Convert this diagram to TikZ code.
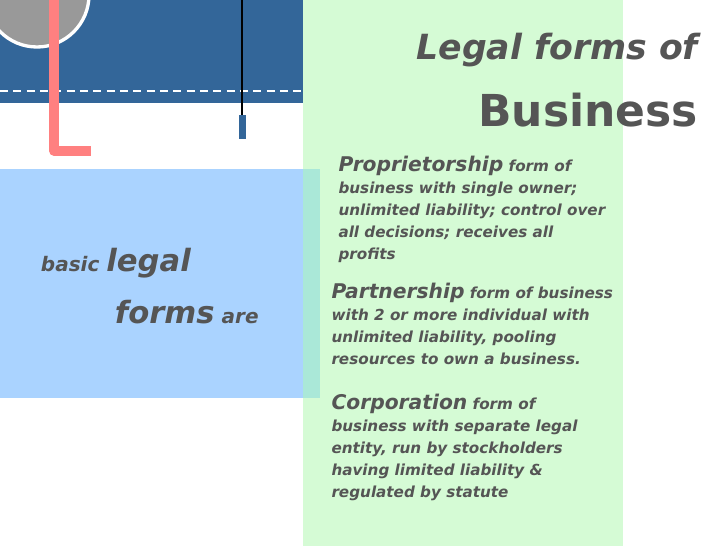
\documentclass[tikz,border=0pt]{standalone}
\usepackage{fontspec}
\setmainfont{DejaVu Sans}
\definecolor{bandblue}{RGB}{51,102,153}
\definecolor{panelgreen}{RGB}{213,251,213}
\definecolor{panelblue}{RGB}{170,211,255}
\definecolor{overlap}{RGB}{170,232,216}
\definecolor{pinkbar}{RGB}{255,128,128}
\definecolor{txtgray}{RGB}{85,85,85}
\tikzset{every picture/.style={line width=0.75pt},
  body/.style={anchor=north west,align=left,inner sep=0pt,text=txtgray,font=\bfseries\itshape\fontsize{11.4}{16.5}\selectfont}}
\begin{document}
\begin{tikzpicture}[x=0.75pt,y=0.75pt,yscale=-1,xscale=1]
	\useasboundingbox (0,0) rectangle (728,546);

	%Shape: Rectangle [id:panels]
	\fill [panelgreen] (303,0) rectangle (623,546);
	\fill [panelblue] (0,169) rectangle (320,398);
	\fill [overlap] (303,169) rectangle (320,398);
	%Shape: Band
	\fill [bandblue] (0,0) rectangle (303,103);
	\draw [white, dash pattern=on 6pt off 4pt, line width=1pt] (0,91) -- (303,91);
	%Shape: Circle
	\begin{scope}
	\clip (0,0) rectangle (303,103);
	\draw [fill={rgb,255:red,153;green,153;blue,153}, draw=white, line width=2.5] (37,-5) circle (52);
	\end{scope}
	%Shape: L bar
	\draw [pinkbar, line width=7, line join=round] (54,0) -- (54,151) -- (91,151);
	%Straight Lines
	\draw [black, line width=1] (242,0) -- (242,116);
	\fill [bandblue] (239,115) rectangle (246,139);

	% Text Node
	\node (title) [anchor=east, text=txtgray, font=\bfseries\itshape\fontsize{26}{28}\selectfont] at (703,50) {Legal forms of};
	% Text Node
	\node (biz) [anchor=east, text=txtgray, font=\bfseries\fontsize{33}{35}\selectfont] at (703,110) {Business};
	% Text Node
	\node (basic) [anchor=west, text=txtgray, font=\bfseries\itshape\fontsize{15}{17}\selectfont] at (36,263) {basic {\fontsize{23}{25}\selectfont legal}};
	\node (forms) [anchor=west, text=txtgray, font=\bfseries\itshape\fontsize{15}{17}\selectfont] at (110,312) {{\fontsize{23}{25}\selectfont forms} are};
	% Text Node
	\node (prop) [body] at (338,156) {{\fontsize{15.2}{17}\selectfont Proprietorship} form of\\business with single owner;\\unlimited liability; control over\\all decisions; receives all\\profits};
	% Text Node
	\node (part) [body] at (331,283) {{\fontsize{15.2}{17}\selectfont Partnership} form of business\\with 2 or more individual with\\unlimited liability, pooling\\resources to own a business.};
	% Text Node
	\node (corp) [body] at (331,394) {{\fontsize{15.2}{17}\selectfont Corporation} form of\\business with separate legal\\entity, run by stockholders\\having limited liability \&\\regulated by statute};
\end{tikzpicture}
\end{document}
